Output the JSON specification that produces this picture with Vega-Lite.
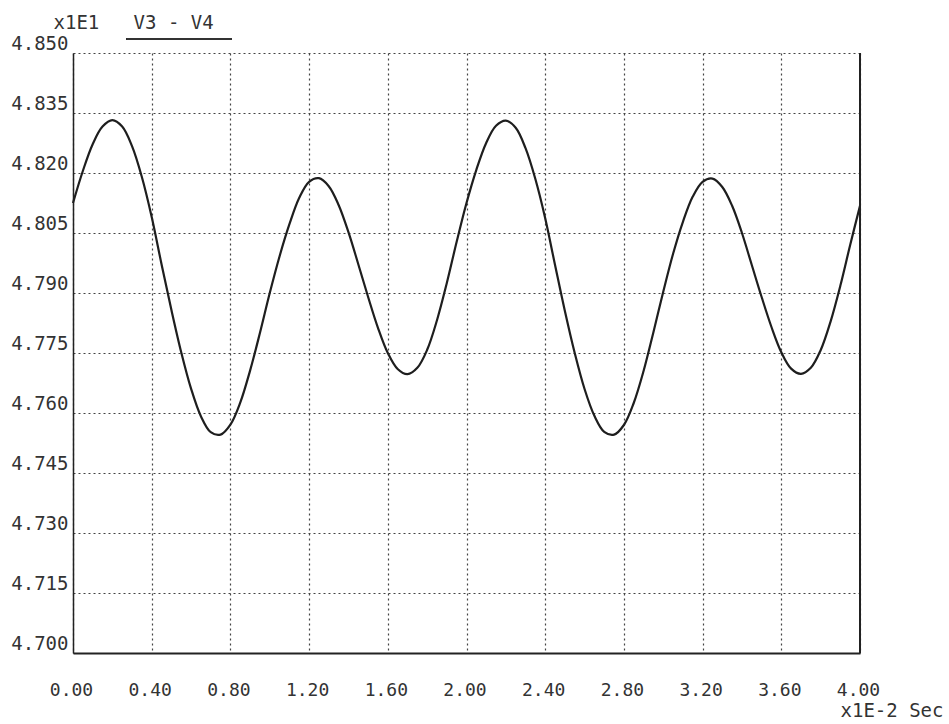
{
  "$schema": "https://vega.github.io/schema/vega-lite/v6.json",
  "autosize": "none",
  "width": 787,
  "height": 600,
  "padding": {"left": 73, "top": 53, "right": 89, "bottom": 71},
  "background": "white",
  "config": {
    "view": {"stroke": null},
    "font": "DejaVu Sans Mono",
    "axis": {"labelFont": "DejaVu Sans Mono", "titleFont": "DejaVu Sans Mono", "labelColor": "#333", "titleColor": "#333", "titleFontWeight": "normal"}
  },
  "data": {"values": [
    {"t": 0.00, "v": 4.8125}, {"t": 0.05, "v": 4.8205}, {"t": 0.10, "v": 4.8272}, {"t": 0.15, "v": 4.8316},
    {"t": 0.20, "v": 4.8332}, {"t": 0.25, "v": 4.8316}, {"t": 0.30, "v": 4.8267}, {"t": 0.35, "v": 4.8190},
    {"t": 0.40, "v": 4.8090}, {"t": 0.45, "v": 4.7972}, {"t": 0.50, "v": 4.7858}, {"t": 0.55, "v": 4.7752},
    {"t": 0.60, "v": 4.7661}, {"t": 0.65, "v": 4.7592}, {"t": 0.70, "v": 4.7552}, {"t": 0.75, "v": 4.7546},
    {"t": 0.80, "v": 4.7571}, {"t": 0.85, "v": 4.7626}, {"t": 0.90, "v": 4.7706}, {"t": 0.95, "v": 4.7800},
    {"t": 1.00, "v": 4.7900}, {"t": 1.05, "v": 4.7992}, {"t": 1.10, "v": 4.8072}, {"t": 1.15, "v": 4.8138},
    {"t": 1.20, "v": 4.8178}, {"t": 1.25, "v": 4.8187}, {"t": 1.30, "v": 4.8167}, {"t": 1.35, "v": 4.8120},
    {"t": 1.40, "v": 4.8052}, {"t": 1.45, "v": 4.7972}, {"t": 1.50, "v": 4.7890}, {"t": 1.55, "v": 4.7813},
    {"t": 1.60, "v": 4.7750}, {"t": 1.65, "v": 4.7710}, {"t": 1.70, "v": 4.7697}, {"t": 1.75, "v": 4.7713},
    {"t": 1.80, "v": 4.7758}, {"t": 1.85, "v": 4.7832}, {"t": 1.90, "v": 4.7925}, {"t": 1.95, "v": 4.8028},
    {"t": 2.00, "v": 4.8125}, {"t": 2.05, "v": 4.8208}, {"t": 2.10, "v": 4.8275}, {"t": 2.15, "v": 4.8318},
    {"t": 2.20, "v": 4.8331}, {"t": 2.25, "v": 4.8313}, {"t": 2.30, "v": 4.8262}, {"t": 2.35, "v": 4.8185},
    {"t": 2.40, "v": 4.8087}, {"t": 2.45, "v": 4.7970}, {"t": 2.50, "v": 4.7855}, {"t": 2.55, "v": 4.7750},
    {"t": 2.60, "v": 4.7660}, {"t": 2.65, "v": 4.7593}, {"t": 2.70, "v": 4.7553}, {"t": 2.75, "v": 4.7546},
    {"t": 2.80, "v": 4.7570}, {"t": 2.85, "v": 4.7625}, {"t": 2.90, "v": 4.7705}, {"t": 2.95, "v": 4.7802},
    {"t": 3.00, "v": 4.7903}, {"t": 3.05, "v": 4.7998}, {"t": 3.10, "v": 4.8078}, {"t": 3.15, "v": 4.8141},
    {"t": 3.20, "v": 4.8178}, {"t": 3.25, "v": 4.8186}, {"t": 3.30, "v": 4.8165}, {"t": 3.35, "v": 4.8118},
    {"t": 3.40, "v": 4.8050}, {"t": 3.45, "v": 4.7970}, {"t": 3.50, "v": 4.7890}, {"t": 3.55, "v": 4.7815},
    {"t": 3.60, "v": 4.7752}, {"t": 3.65, "v": 4.7711}, {"t": 3.70, "v": 4.7698}, {"t": 3.75, "v": 4.7713},
    {"t": 3.80, "v": 4.7757}, {"t": 3.85, "v": 4.7828}, {"t": 3.90, "v": 4.7918}, {"t": 3.95, "v": 4.8020},
    {"t": 4.00, "v": 4.8118}
  ]},
  "layer": [
    {
      "mark": {"type": "line", "color": "#1e1e1e", "strokeWidth": 2.2, "interpolate": "catmull-rom"},
      "encoding": {
        "x": {
          "field": "t", "type": "quantitative",
          "scale": {"domain": [0, 4], "nice": false, "zero": false},
          "axis": {
            "values": [0, 0.4, 0.8, 1.2, 1.6, 2.0, 2.4, 2.8, 3.2, 3.6, 4.0],
            "format": ".2f",
            "labelFontSize": 18,
            "labelBaseline": "alphabetic",
            "labelPadding": 42,
            "labelOffset": -2,
            "ticks": false,
            "tickSize": 0,
            "labelFlush": false,
            "domain": true, "domainColor": "#222", "domainWidth": 2,
            "grid": true, "gridColor": "#444", "gridDash": [2, 3], "gridWidth": 1.2,
            "title": "x1E-2 Sec",
            "titleFontSize": 19,
            "titleAnchor": "start",
            "titleAlign": "left",
            "titleBaseline": "alphabetic",
            "titleX": 767,
            "titleY": 63
          }
        },
        "y": {
          "field": "v", "type": "quantitative",
          "scale": {"domain": [4.7, 4.85], "nice": false, "zero": false},
          "axis": {
            "values": [4.7, 4.715, 4.73, 4.745, 4.76, 4.775, 4.79, 4.805, 4.82, 4.835, 4.85],
            "format": ".3f",
            "labelFontSize": 19,
            "labelBaseline": "alphabetic",
            "labelOffset": -4,
            "labelPadding": 5,
            "ticks": false,
            "tickSize": 0,
            "labelFlush": false,
            "domain": true, "domainColor": "#222", "domainWidth": 1.5,
            "grid": true, "gridColor": "#444", "gridDash": [2, 3], "gridWidth": 1.2,
            "title": "x1E1\u00a0\u00a0\u00a0V3\u00a0-\u00a0V4",
            "titleFontSize": 19,
            "titleAngle": 0,
            "titleAlign": "left",
            "titleBaseline": "alphabetic",
            "titleX": -20,
            "titleY": -25
          }
        }
      }
    },
    {
      "mark": {"type": "rule", "color": "#222", "strokeWidth": 1.5},
      "encoding": {"x": {"datum": 4}}
    },
    {
      "mark": {"type": "rule", "color": "#333", "strokeWidth": 2, "clip": false},
      "encoding": {"x": {"datum": 0.274}, "x2": {"datum": 0.808}, "y": {"datum": 4.8535}}
    }
  ]
}
